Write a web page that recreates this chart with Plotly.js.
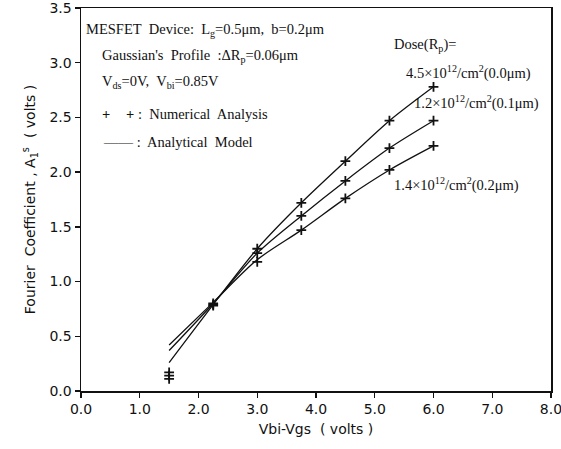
<!DOCTYPE html>
<html><head><meta charset="utf-8">
<script src="https://cdn.plot.ly/plotly-3.0.1.min.js"></script>
<style>body{margin:0;background:#fff}#c{width:561px;height:449px}</style>
</head><body><div id="c"></div>
<script>
const vx = [1.5, 2.25, 3.0, 3.75, 4.5, 5.25, 6.0];
// Numerical analysis (markers)
const num00 = [0.17, 0.80, 1.30, 1.72, 2.10, 2.47, 2.78];
const num01 = [0.14, 0.79, 1.26, 1.60, 1.92, 2.22, 2.47];
const num02 = [0.11, 0.78, 1.18, 1.47, 1.76, 2.02, 2.24];
// Analytical model (lines)
const ana00 = [0.26, 0.79, 1.30, 1.72, 2.10, 2.47, 2.78];
const ana01 = [0.37, 0.80, 1.26, 1.60, 1.92, 2.22, 2.47];
const ana02 = [0.42, 0.81, 1.20, 1.47, 1.76, 2.02, 2.24];
const xTicks = [0,1,2,3,4,5,6,7,8];
const xTickText = ['0.0','1.0','2.0','3.0','4.0','5.0','6.0','7.0','8.0'];
const yTicks = [0,0.5,1,1.5,2,2.5,3,3.5];
const yTickText = ['0.0','0.5','1.0','1.5','2.0','2.5','3.0','3.5'];

const lineT = (y) => ({x: vx, y: y, mode: 'lines', line: {color: '#111', width: 1.3, shape: 'spline', smoothing: 0.8}, hoverinfo: 'skip'});
const markT = (y) => ({x: vx, y: y, mode: 'markers', marker: {symbol: 'cross-thin', size: 7, color: '#111', line: {color: '#111', width: 1.8}}, hoverinfo: 'skip'});

const data = [lineT(ana00), lineT(ana01), lineT(ana02), markT(num00), markT(num01), markT(num02)];

const serif = {family: 'Liberation Serif, Times New Roman, serif', size: 14.5, color: '#111'};
function px2x(p){ return (p - 81) / 58.75; }
function px2y(p){ return (391 - p) / 109.43; }
function ann(text, px, py, anchor){
  return {text: text, x: px2x(px), y: px2y(py), xref: 'x', yref: 'y', xanchor: anchor || 'left', yanchor: 'middle', showarrow: false, font: serif};
}
const annotations = [
  ann('MESFET&nbsp; Device:&nbsp; L<sub>g</sub>=0.5μm,&nbsp; b=0.2μm', 84, 30),
  ann('Gaussian\'s&nbsp; Profile&nbsp; :ΔR<sub>p</sub>=0.06μm', 100, 56),
  ann('V<sub>ds</sub>=0V,&nbsp; V<sub>bi</sub>=0.85V', 100, 82),
  ann('<b>+</b>', 100, 114),
  ann('<b>+</b> :&nbsp; Numerical&nbsp; Analysis', 124, 114),
  ann('——&nbsp;:&nbsp; Analytical&nbsp; Model', 101, 142),
  ann('Dose(R<sub>p</sub>)=', 392, 45),
  ann('4.5×10<sup>12</sup>/cm<sup>2</sup>(0.0μm)', 404, 72),
  ann('1.2×10<sup>12</sup>/cm<sup>2</sup>(0.1μm)', 412, 102),
  ann('1.4×10<sup>12</sup>/cm<sup>2</sup>(0.2μm)', 392, 184)
];

const sans = {family: 'DejaVu Sans, sans-serif', size: 14, color: '#111'};
const layout = {
  width: 561, height: 449,
  margin: {l: 81, r: 10, t: 8, b: 58},
  paper_bgcolor: '#fff', plot_bgcolor: '#fff',
  showlegend: false,
  xaxis: {range: [-0.0001, 8.0001], tickvals: xTicks, ticktext: xTickText, ticks: 'outside', ticklen: 5, tickwidth: 1.3, tickcolor: '#111',
    showline: true, linecolor: '#111', linewidth: 1.5, mirror: true, showgrid: false, zeroline: false, ticklabeloverflow: 'allow', automargin: false,
    tickfont: sans, title: {text: 'Vbi-Vgs&nbsp; ( volts )', font: {family: 'DejaVu Sans, sans-serif', size: 14, color: '#111'}, standoff: 8}},
  yaxis: {range: [-0.0001, 3.5001], tickvals: yTicks, ticktext: yTickText, ticks: 'outside', ticklen: 5, tickwidth: 1.3, tickcolor: '#111',
    showline: true, linecolor: '#111', linewidth: 1.5, mirror: true, showgrid: false, zeroline: false, ticklabeloverflow: 'allow', automargin: false,
    tickfont: sans, title: {text: 'Fourier&nbsp; Coefficient , A<sub>1</sub><sup>s</sup>&nbsp; ( volts )', font: {family: 'DejaVu Sans, sans-serif', size: 14, color: '#111'}, standoff: 10}},
  annotations: annotations
};
Plotly.newPlot('c', data, layout, {staticPlot: true, displayModeBar: false});
</script></body></html>
